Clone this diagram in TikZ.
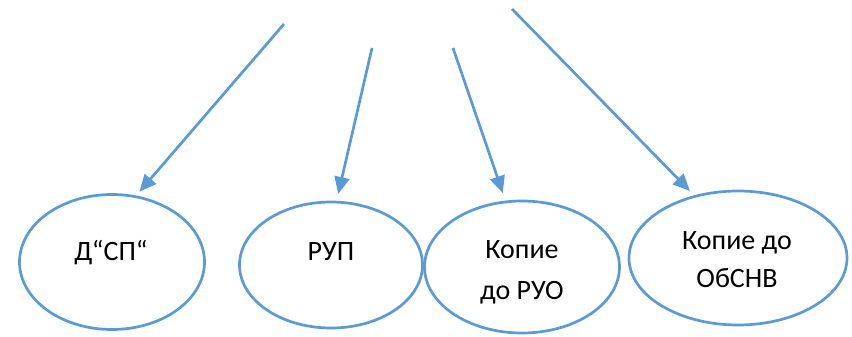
\documentclass[tikz,border=0pt]{standalone}
\usepackage{fontspec}
\setmainfont{Carlito}
\usetikzlibrary{shapes.geometric,arrows.meta}
\definecolor{accblue}{HTML}{5B9BD5}
\begin{document}
\begin{tikzpicture}[x=1pt,y=-1pt,
  oval/.style={ellipse,draw=accblue,line width=2.7pt,inner sep=0pt},
  lbl/.style={font=\fontsize{28}{40}\selectfont,align=center,inner sep=0pt},
  conn/.style={draw=accblue,line width=2.7pt,-{Triangle[length=17pt,width=15pt]}}]
\useasboundingbox (0,0) rectangle (852,337);
\node[oval,minimum width=185pt,minimum height=135pt] (e1) at (112,262) {};
\node[oval,minimum width=183pt,minimum height=126pt] (e2) at (331,265) {};
\node[oval,minimum width=195pt,minimum height=132pt] (e3) at (522,267) {};
\node[oval,minimum width=218pt,minimum height=134pt] (e4) at (738,258) {};
\node[lbl,anchor=base] (t1) at (111,260) {Д“СП“};
\node[lbl,anchor=base] (t2) at (331,260) {РУП};
\node[lbl,anchor=center,font=\fontsize{28}{41}\selectfont] (t3) at (522,272) {Копие\\до РУО};
\node[lbl,anchor=center,font=\fontsize{28}{38}\selectfont] (t4) at (737,260) {Копие до\\ОбСНВ};
\coordinate (s1) at (284,24);
\coordinate (s2) at (372,48);
\coordinate (s3) at (453,48);
\coordinate (s4) at (512,9);
\draw[conn,shorten >=5pt] (s1) -- (e1.70);
\draw[conn,shorten >=7pt] (s2) -- (e2.85);
\draw[conn,shorten >=8pt] (s3) -- (e3.104);
\draw[conn,shorten >=6pt] (s4) -- (e4.125);
\end{tikzpicture}
\end{document}
